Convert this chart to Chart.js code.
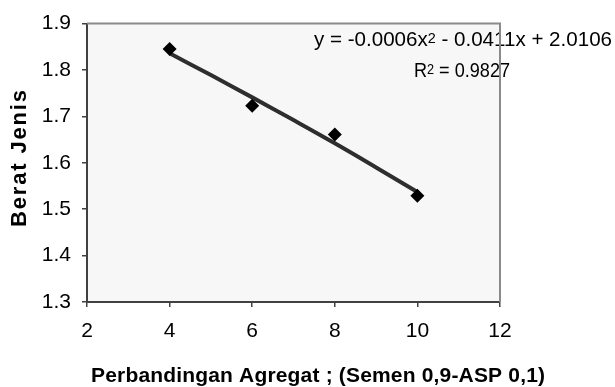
<!DOCTYPE html>
<html>
<head>
<meta charset="utf-8">
<script src="https://cdn.jsdelivr.net/npm/chart.js@4.4.1/dist/chart.umd.min.js"></script>
<style>
  html, body { margin: 0; padding: 0; background: #ffffff; }
  #wrap { width: 615px; height: 387px; position: relative; }
</style>
</head>
<body>
<div id="wrap"><canvas id="c" width="615" height="387"></canvas></div>
<script>
// ---- data ----
const xValues = [4, 6, 8, 10];
const yValues = [1.845, 1.723, 1.661, 1.529];
// polynomial trendline as drawn in the picture
const trendX = [4, 5, 6, 7, 8, 9, 10];
const trendY = [1.836, 1.789, 1.741, 1.692, 1.642, 1.590, 1.537];
// axis ticks
const xTicks = [2, 4, 6, 8, 10, 12];
const yTicks = [1.3, 1.4, 1.5, 1.6, 1.7, 1.8, 1.9];
// texts
const xTitle = 'Perbandingan Agregat ; (Semen 0,9-ASP 0,1)';
const yTitle = 'Berat Jenis';
const eqPart1 = 'y = -0.0006x';
const eqSup = '2';
const eqPart2 = ' - 0.0411x + 2.0106';
const r2Part1 = 'R';
const r2Sup = '2';
const r2Part2 = ' = 0.9827';

const FONT = "'Liberation Sans', Arial, sans-serif";

function drawFitted(ctx, parts, left, baseline, targetW) {
  let natural = 0;
  parts.forEach(p => { ctx.font = p.size + 'px ' + FONT; natural += ctx.measureText(p.text).width; });
  const sx = targetW / natural;
  ctx.save();
  ctx.translate(left, baseline);
  ctx.scale(sx, 1);
  let x = 0;
  parts.forEach(p => {
    ctx.font = p.size + 'px ' + FONT;
    ctx.fillText(p.text, x, -p.rise);
    x += ctx.measureText(p.text).width;
  });
  ctx.restore();
}

function drawSpaced(ctx, text, font, targetW) {
  ctx.font = font;
  const natural = ctx.measureText(text).width;
  const n = text.length;
  const ls = (targetW - natural) / (n - 1);
  let x = 0;
  for (const ch of text) {
    ctx.fillText(ch, x, 0);
    x += ctx.measureText(ch).width + ls;
  }
}

const decorPlugin = {
  id: 'decor',
  beforeDraw(chart) {
    const { ctx, chartArea: a } = chart;
    ctx.save();
    ctx.fillStyle = '#f7f7f7';
    ctx.fillRect(a.left, a.top, a.right - a.left, a.bottom - a.top);
    ctx.restore();
  },
  afterDraw(chart) {
    const { ctx, chartArea: a } = chart;
    ctx.save();
    ctx.fillStyle = '#000000';
    ctx.textBaseline = 'alphabetic';
    ctx.textAlign = 'left';
    drawFitted(ctx, [
      { text: eqPart1, size: 20, rise: 0 },
      { text: eqSup, size: 14, rise: 3 },
      { text: eqPart2, size: 20, rise: 0 }
    ], 314, 46, 298);
    drawFitted(ctx, [
      { text: r2Part1, size: 20, rise: 0 },
      { text: r2Sup, size: 14, rise: 3 },
      { text: r2Part2, size: 20, rise: 0 }
    ], 414, 77, 96);
    ctx.strokeStyle = '#8a8a8a';
    ctx.lineWidth = 2;
    ctx.beginPath();
    ctx.moveTo(a.left, a.top);
    ctx.lineTo(a.right, a.top);
    ctx.lineTo(a.right, a.bottom);
    ctx.stroke();
    ctx.save();
    ctx.translate(91, 382);
    drawSpaced(ctx, xTitle, 'bold 21px ' + FONT, 454);
    ctx.restore();
    ctx.save();
    ctx.translate(26, 227);
    ctx.rotate(-Math.PI / 2);
    drawSpaced(ctx, yTitle, 'bold 22px ' + FONT, 137);
    ctx.restore();
    ctx.restore();
  }
};

new Chart(document.getElementById('c'), {
  type: 'scatter',
  data: {
    datasets: [
      {
        label: 'Berat Jenis',
        data: xValues.map((x, i) => ({ x: x, y: yValues[i] })),
        pointStyle: 'rectRot',
        pointRadius: 7,
        pointHoverRadius: 7,
        backgroundColor: '#000000',
        borderColor: '#000000',
        borderWidth: 0,
        showLine: false
      },
      {
        label: 'Poly. (Berat Jenis)',
        data: trendX.map((x, i) => ({ x: x, y: trendY[i] })),
        showLine: true,
        borderColor: '#2e2e2e',
        borderWidth: 4,
        pointRadius: 0,
        tension: 0.4,
        fill: false
      }
    ]
  },
  options: {
    responsive: false,
    animation: false,
    devicePixelRatio: 1,
    layout: { padding: { left: 0, top: 21, right: 115, bottom: 0 } },
    plugins: { legend: { display: false }, tooltip: { enabled: false } },
    scales: {
      x: {
        type: 'linear',
        min: 2, max: 12,
        afterBuildTicks(scale) { scale.ticks = xTicks.map(v => ({ value: v })); },
        afterFit(scale) { scale.height = 85; },
        ticks: {
          color: '#000000',
          font: { family: FONT, size: 21 },
          padding: 12,
          callback: v => String(v)
        },
        grid: { drawOnChartArea: false, drawTicks: true, tickLength: 5, color: '#404040', lineWidth: 1.5 },
        border: { color: '#404040', width: 2 }
      },
      y: {
        type: 'linear',
        min: 1.3, max: 1.9,
        afterBuildTicks(scale) { scale.ticks = yTicks.map(v => ({ value: v })); },
        afterFit(scale) { scale.width = 87; },
        ticks: {
          color: '#000000',
          font: { family: FONT, size: 21 },
          padding: 11,
          callback: v => Number(v).toFixed(1)
        },
        grid: { drawOnChartArea: false, drawTicks: true, tickLength: 5, color: '#404040', lineWidth: 1.5 },
        border: { color: '#404040', width: 2 }
      }
    }
  },
  plugins: [decorPlugin]
});
</script>
</body>
</html>
